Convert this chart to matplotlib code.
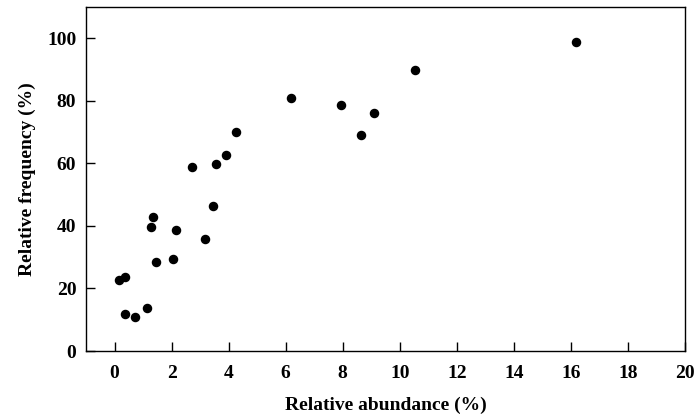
#!/usr/bin/env python3
"""Scatter of relative frequency against relative abundance."""
import matplotlib

matplotlib.use("Agg")
import matplotlib.pyplot as plt

# values
abundance = [0.17, 0.38, 0.38, 0.73, 1.14, 1.46, 2.06, 1.28, 1.34, 2.14, 3.16,
             3.46, 2.70, 3.56, 3.92, 4.27, 6.19, 7.95, 8.65, 9.11, 10.52, 16.17]
frequency = [22.7, 23.6, 11.7, 10.8, 13.9, 28.6, 29.5, 39.7, 42.9, 38.8, 35.9,
             46.5, 58.9, 59.9, 62.7, 70.0, 81.0, 78.8, 69.1, 76.0, 89.8, 98.9]
x_ticks = list(range(0, 21, 2))
y_ticks = list(range(0, 101, 20))

plt.rcParams["font.family"] = ["Liberation Serif", "DejaVu Serif"]
plt.rcParams["font.weight"] = "bold"

fig = plt.figure(figsize=(6.96, 4.19), dpi=100)
# axes box: left 86px, right 685px, top 7px, bottom 351px
ax = fig.add_axes([86 / 696, 68 / 419, 599 / 696, 344 / 419])

ax.scatter(abundance, frequency, s=34, color="black", zorder=3)

ax.set_xlim(-1, 20)
ax.set_ylim(0, 110)
ax.set_xticks(x_ticks)
ax.set_yticks(y_ticks)
ax.tick_params(axis="both", direction="in", length=6.5, width=1.0,
               labelsize=14)
ax.tick_params(axis="x", pad=10)
ax.tick_params(axis="y", pad=7)
for label in ax.get_xticklabels() + ax.get_yticklabels():
    label.set_fontweight("bold")

for side in ["top", "right", "left", "bottom"]:
    ax.spines[side].set_linewidth(1.0)

ax.set_xlabel("Relative abundance (%)", fontsize=14, fontweight="bold",
              labelpad=11)
ax.set_ylabel("Relative frequency (%)", fontsize=14, fontweight="bold",
              labelpad=8)

fig.savefig("out.png", dpi=100)
